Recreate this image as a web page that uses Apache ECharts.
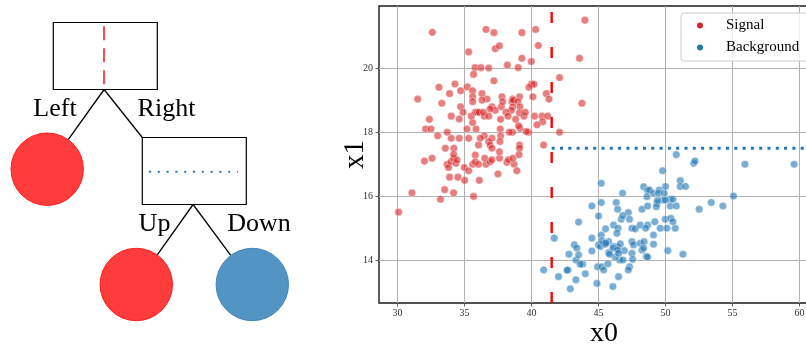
<!DOCTYPE html>
<html>
<head>
<meta charset="utf-8">
<script src="https://cdn.jsdelivr.net/npm/echarts@6/dist/echarts.min.js"></script>
<style>
html, body { margin: 0; padding: 0; background: #fff; }
#chart { width: 806px; height: 347px; }
</style>
</head>
<body>
<div id="chart"></div>
<script>
// Tick positions of the feature plane
const xTicks = [30, 35, 40, 45, 50, 55, 60];
const yTicks = [14, 16, 18, 20];

// Tree thresholds: first cut on x0, second cut on x1
const cutX0 = 41.5;
const cutX1 = 17.5;

// Class names
const classNames = ['Signal', 'Background'];

// Branch captions of the tree
const branchLabels = ['Left', 'Right', 'Up', 'Down'];

// Leaf classes (index into classNames): Left leaf, Up leaf, Down leaf
const leafClasses = [0, 0, 1];

// Signal sample (x0, x1)
const signalPoints = [
  [32.59,21.11],[36.6,21.2],[37.19,21.1],[39.28,21.1],[40.3,21.2],[43.98,21.49],
  [35.3,20.5],[37.29,20.6],[37.6,20.69],[40.5,20.7],[43.58,20.3],[39.28,20.3],[39.98,20.2],
  [38.19,20.09],[39.0,20.01],[35.78,20.01],[36.22,20.01],[36.8,20.0],[35.67,19.8],[37.19,19.6],[42.09,19.7],
  [33.09,19.4],[34.28,19.5],[33.88,19.2],[34.7,19.29],[35.2,19.41],[35.6,19.29],[35.6,19.1],[36.3,19.2],
  [36.67,19.03],[37.79,19.1],[38.58,19.03],[39.1,19.1],[40.1,19.1],[40.0,19.5],[40.18,19.49],[39.8,19.4],
  [41.1,19.2],[41.3,19.03],[31.5,19.03],
  [33.3,18.9],[34.7,18.79],[34.88,18.62],[34.6,18.41],[34.0,18.5],[32.37,18.4],[32.09,18.1],[32.49,18.1],
  [32.99,17.89],[33.7,18.0],[34.0,17.81],[34.6,17.81],[33.56,17.5],[34.2,17.5],[35.18,18.1],[35.85,18.1],
  [35.6,18.3],[35.5,18.5],[35.8,18.62],[35.95,18.62],[36.1,18.62],[35.6,18.95],[36.3,19.0],[37.04,18.79],
  [37.29,18.68],[36.9,18.72],[37.74,18.79],[37.84,18.95],[38.54,18.95],[38.64,19.0],[38.98,18.95],[39.13,18.79],
  [38.6,18.79],[38.49,18.68],[38.09,18.62],[37.69,18.4],[36.47,18.5],[36.4,18.62],[36.8,18.5],[38.24,18.5],
  [38.81,18.4],[39.1,18.6],[39.43,18.5],[39.53,18.62],[40.22,18.5],[40.78,18.5],[40.82,18.32],
  [39.13,18.12],[39.78,18.0],[39.6,18.02],[39.03,18.2],[38.58,18.0],[38.34,18.0],[37.66,18.1],[37.69,17.89],
  [37.64,17.71],[37.04,17.81],[36.8,17.71],[36.9,17.6],[37.04,17.5],[36.47,17.89],[36.17,17.81],[35.3,17.81],
  [36.04,17.6],[35.8,17.29],[39.1,17.6],[39.1,17.5],[40.9,17.6],[42.09,18.0],[41.2,18.5],[40.4,18.23],
  [43.76,18.9],
  [32.0,17.1],[32.57,17.19],[33.7,17.0],[33.8,16.9],[33.98,17.08],[34.18,17.19],[34.36,17.03],[34.43,17.14],
  [34.98,16.9],[35.3,16.8],[35.6,17.0],[35.8,17.08],[36.04,17.0],[36.6,17.0],[36.5,17.19],[36.9,17.08],
  [37.04,17.14],[37.61,17.19],[38.16,17.06],[38.28,17.14],[38.69,17.0],[38.6,17.19],[38.9,16.8],[37.49,16.7],
  [33.88,16.6],[34.5,16.6],[35.0,16.5],[36.1,16.5],[33.51,16.21],[34.18,16.11],[33.2,15.91],[31.07,16.11],
  [35.67,16.0],[30.07,15.51],[34.18,17.31],[39.06,17.3],[37.6,17.39]
];

// Background sample (x0, x1)
const backgroundPoints = [
  [45.2,16.41],[46.79,16.1],[44.5,15.7],[45.2,15.81],[45.0,15.39],[46.32,15.81],[46.42,15.6],[47.22,15.5],
  [47.31,15.29],[46.69,15.29],[46.81,15.4],[43.51,15.2],[46.12,15.11],[46.45,15.01],[46.37,14.85],[45.52,14.99],
  [45.2,14.8],[44.5,14.7],[41.69,14.7],[45.0,14.49],[45.13,14.44],[45.38,14.52],[45.75,14.59],[46.17,14.44],
  [46.42,14.42],[46.62,14.52],[46.92,14.31],[47.49,14.59],[47.61,14.49],[48.11,14.54],[48.24,14.33],[47.49,14.23],
  [47.54,14.04],[48.4,14.59],[48.36,14.39],[48.56,14.13],[47.49,15.01],[47.74,14.99],[48.11,15.11],[48.66,15.11],
  [48.24,15.6],[48.66,15.7],[48.36,16.3],[48.66,16.18],[43.19,14.49],[43.38,14.39],[42.79,14.2],[43.31,14.02],
  [43.51,14.18],[43.81,13.89],[43.63,13.89],[42.72,13.71],[42.65,13.7],[42.01,13.5],[43.31,13.4],[44.01,13.59],
  [42.89,13.12],[40.9,13.71],[44.93,13.81],[45.25,13.81],[45.38,13.71],[45.7,13.9],[44.88,13.29],[46.07,13.19],
  [46.49,13.5],[47.31,13.81],[47.22,13.71],[46.57,14.02],[46.82,14.02],[46.24,14.11],[45.75,14.25],[46.07,14.39],
  [48.8,16.2],[48.61,15.99],[49.1,16.1],[49.53,16.2],[49.48,16.1],[49.9,16.1],[50.0,16.31],[49.78,16.8],
  [49.8,15.89],[49.36,15.79],[49.31,15.68],[50.35,15.91],[50.55,15.91],[50.35,15.7],[50.8,15.7],[51.1,16.49],
  [51.1,16.31],[51.49,16.31],[52.51,15.6],[53.41,15.81],[54.28,15.7],[55.07,16.01],[52.1,17.03],[52.2,17.1],
  [55.93,17.0],[59.6,17.0],[49.2,15.21],[49.6,15.01],[50.1,15.01],[50.72,15.01],[49.98,15.29],[50.4,15.32],
  [50.55,15.21],[49.1,14.8],[49.1,14.51],[50.17,14.31],[51.3,14.2],[48.51,15.01],[48.66,14.11],[46.42,14.33],
  [46.5,14.23],[45.82,14.2],[45.5,14.51],[44.5,14.3],[50.8,17.3],[49.4,15.87],[49.98,15.89],[45.25,14.62],[45.55,14.55]
];

// ---- Styling and layout ----
const classColors = ['#d62728', '#1f77b4'];
const leafFill = ['#ff3c3c', '#5294c3'];
const leafStroke = ['#ff1a1a', '#3f86bd'];
const serif = '"Liberation Serif", "DejaVu Serif", serif';

const xRange = [28.61, 62.2];
const yRange = [12.68, 21.93];

// Diagram panel uses a 1:1 pixel frame (320 x 347)
const boxW = 104, boxH = 67, leafR = 36.2;
const splitBoxes = [
  { cx: 105.3, cy: 56, cut: 'vertical' },
  { cx: 194.3, cy: 171, cut: 'horizontal' }
];
const leafCircles = [
  { cx: 47.2, cy: 169.2 },
  { cx: 136.3, cy: 284.5 },
  { cx: 252.3, cy: 284.5 }
];
// Branch caption anchor points (centre x, text middle y)
const branchLabelPos = [[55, 109], [166.5, 109], [154.5, 224], [259, 224]];

// parent box index -> child
const treeLinks = [
  { from: 0, leaf: 0 },
  { from: 0, box: 1 },
  { from: 1, leaf: 1 },
  { from: 1, leaf: 2 }
];

function linkSegment(link) {
  const p = splitBoxes[link.from];
  const sx = p.cx - 1.2, sy = p.cy + boxH / 2;
  if (link.box !== undefined) {
    const b = splitBoxes[link.box];
    return [sx, sy, b.cx - boxW / 2, b.cy - boxH / 2];
  }
  const c = leafCircles[link.leaf];
  const dx = sx - c.cx, dy = sy - c.cy, d = Math.hypot(dx, dy);
  return [sx, sy, c.cx + dx / d * leafR, c.cy + dy / d * leafR];
}

const chart = echarts.init(document.getElementById('chart'), null, { renderer: 'canvas' });

const axisLabelFont = { fontFamily: serif, fontSize: 10, color: '#333' };

const option = {
  animation: false,
  backgroundColor: '#fff',
  grid: [
    { left: 379, top: 6, width: 450, height: 297, containLabel: false, outerBoundsMode: 'none',
      show: true, borderColor: '#1a1a1a', borderWidth: 1.4, backgroundColor: 'transparent' },
    { left: 0, top: 0, width: 320, height: 347, containLabel: false, outerBoundsMode: 'none', show: false }
  ],
  xAxis: [
    {
      type: 'value', gridIndex: 0, min: xRange[0], max: xRange[1],
      name: 'x0', nameLocation: 'middle', nameGap: 17, nameMoveOverlap: false,
      nameTextStyle: { fontFamily: serif, fontSize: 28, color: '#000' },
      axisLine: { show: false },
      axisTick: { show: true, customValues: xTicks, length: 3.5, lineStyle: { color: '#333', width: 0.8 } },
      axisLabel: Object.assign({ customValues: xTicks, margin: 5 }, axisLabelFont),
      splitLine: { show: true, lineStyle: { color: '#b0b0b0', width: 1 } }
    },
    { type: 'value', gridIndex: 1, min: 0, max: 320, show: false,
      axisLine: { show: false }, splitLine: { show: false }, axisTick: { show: false }, axisLabel: { show: false } }
  ],
  yAxis: [
    {
      type: 'value', gridIndex: 0, min: yRange[0], max: yRange[1],
      name: 'x1', nameLocation: 'middle', nameGap: 9, nameMoveOverlap: false,
      nameTextStyle: { fontFamily: serif, fontSize: 29, color: '#000' },
      axisLine: { show: false },
      axisTick: { show: true, customValues: yTicks, length: 3.5, lineStyle: { color: '#333', width: 0.8 } },
      axisLabel: Object.assign({ customValues: yTicks, margin: 6 }, axisLabelFont),
      splitLine: { show: true, lineStyle: { color: '#b0b0b0', width: 1 } }
    },
    { type: 'value', gridIndex: 1, min: 0, max: 347, inverse: true, show: false,
      axisLine: { show: false }, splitLine: { show: false }, axisTick: { show: false }, axisLabel: { show: false } }
  ],
  legend: {
    orient: 'vertical', left: 681, top: 13,
    padding: [5, 30, 6, 16], itemGap: 7,
    itemWidth: 12, itemHeight: 6, icon: 'circle',
    backgroundColor: 'rgba(255,255,255,0.8)', borderColor: '#cccccc', borderWidth: 1, borderRadius: 3,
    textStyle: { fontFamily: serif, fontSize: 15, color: '#000', padding: [0, 0, 0, 15] },
    data: classNames.map((n, i) => ({ name: n, itemStyle: { opacity: 1, color: classColors[i], borderWidth: 0 } }))
  },
  series: [
    {
      name: classNames[0], type: 'scatter', xAxisIndex: 0, yAxisIndex: 0,
      data: signalPoints, symbolSize: 7.6, z: 3,
      itemStyle: { color: classColors[0], opacity: 0.6, borderColor: '#fff', borderWidth: 0.7 }
    },
    {
      name: classNames[1], type: 'scatter', xAxisIndex: 0, yAxisIndex: 0,
      data: backgroundPoints, symbolSize: 7.6, z: 3,
      itemStyle: { color: classColors[1], opacity: 0.6, borderColor: '#fff', borderWidth: 0.7 }
    },
    {
      // first split: vertical cut on x0
      name: 'cut-x0', type: 'line', xAxisIndex: 0, yAxisIndex: 0, z: 5,
      data: [[cutX0, yRange[0]], [cutX0, yRange[1]]],
      symbol: 'none', silent: true,
      lineStyle: { color: '#ff0000', width: 2.4, type: [11, 24], cap: 'butt' }
    },
    {
      // second split: horizontal cut on x1, right of the first cut
      name: 'cut-x1', type: 'line', xAxisIndex: 0, yAxisIndex: 0, z: 5,
      data: [[cutX0, cutX1], [xRange[1], cutX1]],
      symbol: 'none', silent: true,
      lineStyle: { color: '#1f77b4', width: 3, type: [3, 5.3], cap: 'butt' }
    },
    {
      // tree edges
      type: 'custom', xAxisIndex: 1, yAxisIndex: 1, z: 2, silent: true,
      data: treeLinks.map(linkSegment),
      renderItem: function (params, api) {
        const a = api.coord([api.value(0), api.value(1)]);
        const b = api.coord([api.value(2), api.value(3)]);
        return { type: 'line', shape: { x1: a[0], y1: a[1], x2: b[0], y2: b[1] },
          style: { stroke: '#000', lineWidth: 1.3 } };
      }
    },
    {
      // split boxes with the cut drawn inside
      type: 'custom', xAxisIndex: 1, yAxisIndex: 1, z: 3, silent: true,
      data: splitBoxes.map(b => [b.cx, b.cy]),
      renderItem: function (params, api) {
        const c = api.coord([api.value(0), api.value(1)]);
        const s = api.size([boxW, boxH]).map(Math.abs);
        const x0 = c[0] - s[0] / 2, y0 = c[1] - s[1] / 2;
        const kind = splitBoxes[params.dataIndex].cut;
        const inner = kind === 'vertical'
          ? { type: 'line', shape: { x1: c[0] - 1.3, y1: y0 + 3.8, x2: c[0] - 1.3, y2: y0 + s[1] - 3.5 },
              style: { stroke: '#ff2020', lineWidth: 1.6, lineDash: [14, 8] } }
          : { type: 'line', shape: { x1: x0 + 6.7, y1: c[1] + 0.7, x2: x0 + s[0] - 8.5, y2: c[1] + 0.7 },
              style: { stroke: '#1f77b4', lineWidth: 2, lineDash: [2, 6.8] } };
        return { type: 'group', children: [
          { type: 'rect', shape: { x: x0, y: y0, width: s[0], height: s[1] },
            style: { fill: '#fff', stroke: '#000', lineWidth: 1.2 } },
          inner
        ] };
      }
    },
    {
      // leaves coloured by class
      type: 'custom', xAxisIndex: 1, yAxisIndex: 1, z: 3, silent: true,
      data: leafCircles.map(c => [c.cx, c.cy]),
      renderItem: function (params, api) {
        const c = api.coord([api.value(0), api.value(1)]);
        const r = Math.abs(api.size([leafR, leafR])[0]);
        const k = leafClasses[params.dataIndex];
        return { type: 'circle', shape: { cx: c[0], cy: c[1], r: r },
          style: { fill: leafFill[k], stroke: leafStroke[k], lineWidth: 1 } };
      }
    },
    {
      // branch captions
      type: 'custom', xAxisIndex: 1, yAxisIndex: 1, z: 4, silent: true,
      data: branchLabelPos,
      renderItem: function (params, api) {
        const c = api.coord([api.value(0), api.value(1)]);
        return { type: 'text', style: {
          text: branchLabels[params.dataIndex], x: c[0], y: c[1],
          fill: '#000', font: '26px ' + serif,
          align: 'center', verticalAlign: 'middle',
          textAlign: 'center', textVerticalAlign: 'middle' } };
      }
    }
  ]
};

chart.setOption(option);
</script>
</body>
</html>
